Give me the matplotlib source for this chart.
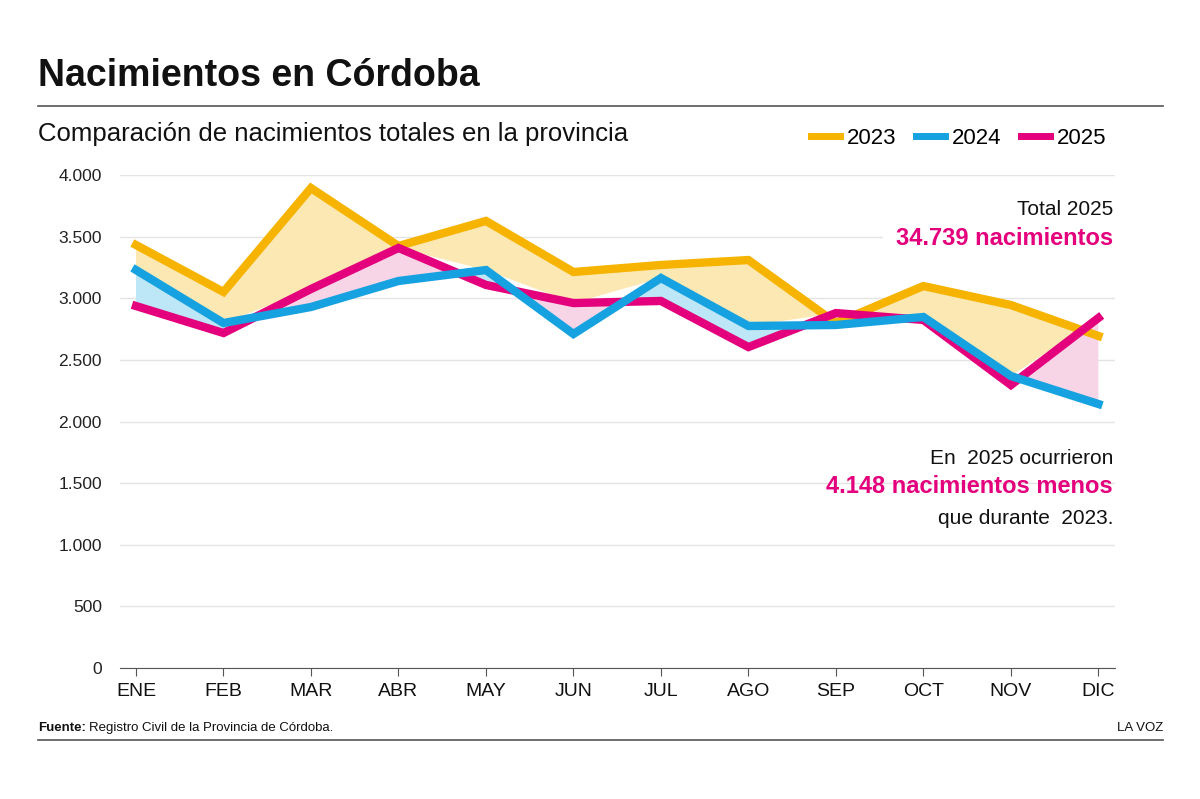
import matplotlib.pyplot as plt
from matplotlib.lines import Line2D
import numpy as np

# Datos
months = ["ENE", "FEB", "MAR", "ABR", "MAY", "JUN", "JUL", "AGO", "SEP", "OCT", "NOV", "DIC"]
births_2023 = [3432, 3051, 3894, 3424, 3627, 3213, 3270, 3310, 2799, 3099, 2945, 2694]
births_2024 = [3229, 2799, 2929, 3140, 3229, 2710, 3164, 2775, 2783, 2848, 2369, 2142]
births_2025 = [2937, 2718, 3075, 3408, 3108, 2961, 2978, 2604, 2880, 2824, 2296, 2840]
yticks = [0, 500, 1000, 1500, 2000, 2500, 3000, 3500, 4000]
ytick_labels = ["0", "500", "1.000", "1.500", "2.000", "2.500", "3.000", "3.500", "4.000"]

C23, C24, C25 = "#F6B400", "#16A2E0", "#E4007C"
F23, F24, F25 = "#FCE8B3", "#BDE6F6", "#F8D5E6"

plt.rcParams['font.family'] = ['Liberation Sans Narrow', 'Liberation Sans', 'DejaVu Sans']

fig = plt.figure(figsize=(12, 7.99), dpi=100)
ax = fig.add_axes([120 / 1200, 1 - 668 / 799, 995 / 1200, (668 - 175) / 799])

x = np.arange(len(months))
y23 = np.array(births_2023)
y24 = np.array(births_2024)
y25 = np.array(births_2025)

# rellenos entre las curvas
ax.fill_between(x, y24, y25, where=y25 >= y24, interpolate=True, color=F25, lw=0, zorder=1)
ax.fill_between(x, y24, y25, where=y24 >= y25, interpolate=True, color=F24, lw=0, zorder=1)
top = np.maximum(y24, y25)
ax.fill_between(x, top, y23, where=y23 >= top, interpolate=True, color=F23, lw=0, zorder=1)

ax.plot(x, y23, color=C23, lw=6, solid_joinstyle='miter', zorder=3, clip_on=False)
ax.plot(x, y24, color=C24, lw=6, solid_joinstyle='miter', zorder=4, clip_on=False)
ax.plot(x, y25, color=C25, lw=6, solid_joinstyle='miter', zorder=3.5, clip_on=False)

ax.set_xlim(-0.183, 11.19)
ax.set_ylim(0, 4000)
ax.set_yticks(yticks)
ax.set_yticklabels(ytick_labels, fontsize=12.5, color="#222222")
ax.set_xticks(x)
ax.set_xticklabels(months, fontsize=14, color="#111111")
ax.grid(axis="y", color="#E4E4E4", lw=1)
ax.set_axisbelow(True)
for s in ["top", "right", "left"]:
    ax.spines[s].set_visible(False)
ax.spines["bottom"].set_color("#555555")
ax.tick_params(axis="y", length=0, pad=13)
ax.tick_params(axis="x", length=6, color="#555555", pad=5)

# anotaciones
box = dict(facecolor="white", edgecolor="none", pad=9)
ax.text(0.998, 0.93, "Total 2025", transform=ax.transAxes, ha="right", va="center",
        fontsize=15, color="#111111", zorder=6)
ax.text(0.998, 0.872, "34.739 nacimientos", transform=ax.transAxes, ha="right", va="center",
        fontsize=17, fontweight="bold", color=C25, bbox=box, zorder=5)
ax.text(0.998, 0.425, "En  2025 ocurrieron", transform=ax.transAxes, ha="right", va="center",
        fontsize=15, color="#111111", zorder=6)
ax.text(0.998, 0.368, "4.148 nacimientos menos", transform=ax.transAxes, ha="right", va="center",
        fontsize=17, fontweight="bold", color=C25, zorder=6)
ax.text(0.998, 0.303, "que durante  2023.", transform=ax.transAxes, ha="right", va="center",
        fontsize=15, color="#111111", zorder=6)

# leyenda
handles = [Line2D([0], [0], color=c, lw=5) for c in (C23, C24, C25)]
fig.legend(handles, ["2023", "2024", "2025"], loc="center right",
           bbox_to_anchor=(1122 / 1200, 1 - 138 / 799), ncol=3, frameon=False,
           fontsize=16, handlelength=1.3, handletextpad=0.3, columnspacing=0.9,
           borderpad=0.2)

# títulos
fig.text(38 / 1200, 1 - 76 / 799, "Nacimientos en Córdoba", fontsize=27, fontweight="bold",
         color="#111111", va="center", ha="left")
fig.add_artist(Line2D([38 / 1200, 1163 / 1200], [1 - 106 / 799] * 2, color="#555555", lw=1.2))
fig.text(38 / 1200, 1 - 134 / 799, "Comparación de nacimientos totales en la provincia",
         fontsize=18.5, color="#111111", va="center", ha="left")

# pie
fig.text(38 / 1200, 1 - 728 / 799, "Fuente:", fontsize=9.5, fontweight="bold",
         color="#111111", va="center", ha="left")
fig.text(89 / 1200, 1 - 728 / 799, "Registro Civil de la Provincia de Córdoba.", fontsize=9.5,
         color="#111111", va="center", ha="left")
fig.text(1163 / 1200, 1 - 728 / 799, "LA VOZ", fontsize=9.5, color="#111111",
         va="center", ha="right")
fig.add_artist(Line2D([38 / 1200, 1163 / 1200], [1 - 740 / 799] * 2, color="#555555", lw=1.2))

fig.savefig("out.png", dpi=100, facecolor="white")
